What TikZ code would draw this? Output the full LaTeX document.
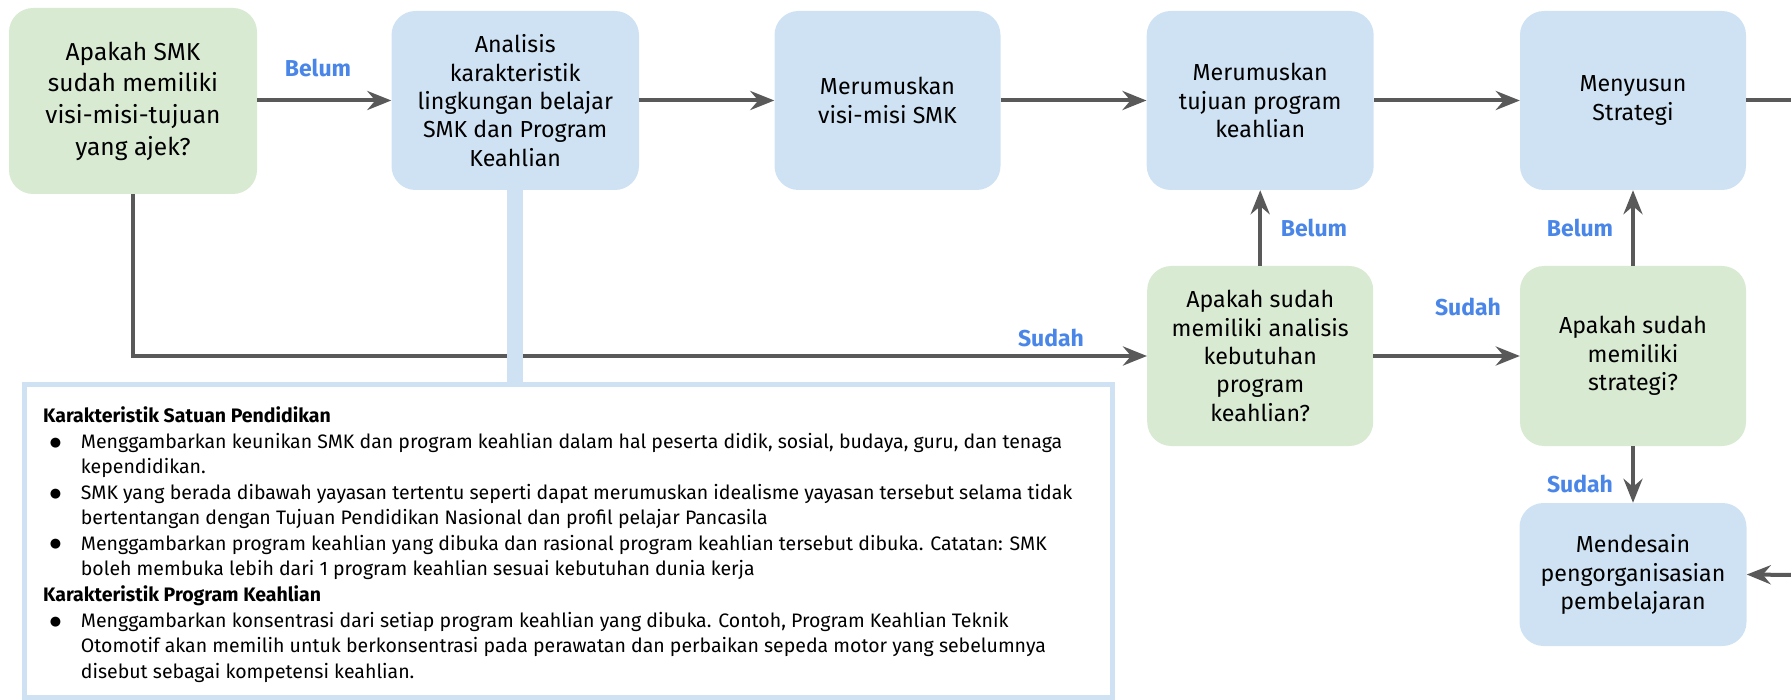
\documentclass[tikz,border=0pt]{standalone}
\usepackage{fontspec}
\setmainfont{Fira Sans}
\newfontfamily\bulletfont{DejaVu Sans}
\usetikzlibrary{arrows.meta}

\definecolor{boxblue}{HTML}{CFE2F3}
\definecolor{boxgreen}{HTML}{D9EAD3}
\definecolor{flowgray}{HTML}{595959}
\definecolor{labelblue}{HTML}{4A86E8}

\begin{document}
\begin{tikzpicture}[x=1pt,y=-1pt,
  base/.style={rounded corners=24pt, inner sep=0pt, align=center, text=black,
    font=\fontsize{23.2}{28.3}\selectfont},
  task/.style={base, fill=boxblue},
  question/.style={base, fill=boxgreen},
  flowline/.style={draw=flowgray, line width=4pt},
  flow/.style={flowline, -{Stealth[length=24pt,width=19pt,inset=8pt]}},
  answer/.style={text=labelblue, inner sep=0pt, font=\bfseries\fontsize{23}{26}\selectfont},
  infoline/.style={anchor=base west, inner sep=0pt, text=black, font=\fontsize{19.5}{22}\selectfont},
  infohead/.style={infoline, font=\bfseries\fontsize{19.5}{22}\selectfont},
  dot/.style={inner sep=0pt, text=black, font=\bulletfont\fontsize{13}{13}\selectfont}]

\useasboundingbox (0,0) rectangle (1791,700);

% flow steps
\node[question, minimum width=248pt, minimum height=186pt,
      font=\fontsize{24.5}{31.7}\selectfont] (q1) at (133,101)
  {Apakah SMK\\sudah memiliki\\visi-misi-tujuan\\yang ajek?};
\node[task, minimum width=247.5pt, minimum height=179pt] (t1) at (515.25,100.5)
  {Analisis\\karakteristik\\lingkungan belajar\\SMK dan Program\\Keahlian};
\node[task, minimum width=226pt, minimum height=179pt] (t2) at (887.5,100.5)
  {Merumuskan\\visi-misi SMK};
\node[task, minimum width=227pt, minimum height=179pt] (t3) at (1260.2,100.5)
  {Merumuskan\\tujuan program\\keahlian};
\node[task, minimum width=226pt, minimum height=179pt] (t4) at (1633,100.5)
  {Menyusun\\Strategi};
\node[question, minimum width=226pt, minimum height=180pt] (q2) at (1260.2,356)
  {Apakah sudah\\memiliki analisis\\kebutuhan\\program\\keahlian?};
\node[question, minimum width=226pt, minimum height=180pt] (q3) at (1633,356)
  {Apakah sudah\\memiliki\\strategi?};
\node[task, minimum width=227pt, minimum height=143pt] (t5) at (1633,574.5)
  {Mendesain\\pengorganisasian\\pembelajaran};

\coordinate (outR) at (1795,100.5);
\coordinate (inR) at (1795,575);

% connectors
\draw[flow] (t1.west -| q1.east) -- (t1.west);
\draw[flow] (t1) -- (t2);
\draw[flow] (t2) -- (t3);
\draw[flow] (t3) -- (t4);
\draw[flowline] (t4.east) -- (outR);
\draw[flow] (q1.south) -- (q1.south |- q2.west) -- (q2.west);
\draw[flow] (q2) -- (q3);
\draw[flow] (q2) -- (t3);
\draw[flow] (q3) -- (t4);
\draw[flow] (q3) -- (t5);
\draw[flow] (inR) -- (t5.east);

% answer labels
\node[answer] (a1) at (318,68) {Belum};
\node[answer] (a2) at (1314,228) {Belum};
\node[answer] (a3) at (1580,228) {Belum};
\node[answer] (a4) at (1051,338) {Sudah};
\node[answer] (a5) at (1468,307) {Sudah};
\node[answer] (a6) at (1580,484) {Sudah};

% description panel and its link to the analysis step
\node[draw=boxblue, line width=5pt, minimum width=1088pt, minimum height=313pt,
      inner sep=0pt] (info) at (568.5,541) {};
\draw[boxblue, line width=16pt] (t1.south) -- (t1.south |- info.north);

\node[infohead] (h1) at (43,422) {Karakteristik Satuan Pendidikan};
\node[dot] (d1) at (55.5,442.7) {●};
\node[infoline] (s1) at (80.7,448) {Menggambarkan keunikan SMK dan program keahlian dalam hal peserta didik, sosial, budaya, guru, dan tenaga};
\node[infoline] (s2) at (80.7,473.5) {kependidikan.};
\node[dot] (d2) at (55.5,494) {●};
\node[infoline] (s3) at (80.7,499) {SMK yang berada dibawah yayasan tertentu seperti dapat merumuskan idealisme yayasan tersebut selama tidak};
\node[infoline] (s4) at (80.7,524.5) {bertentangan dengan Tujuan Pendidikan Nasional dan profil pelajar Pancasila};
\node[dot] (d3) at (55.5,544.5) {●};
\node[infoline] (s5) at (80.7,550) {Menggambarkan program keahlian yang dibuka dan rasional program keahlian tersebut dibuka. Catatan: SMK};
\node[infoline] (s6) at (80.7,575.5) {boleh membuka lebih dari 1 program keahlian sesuai kebutuhan dunia kerja};
\node[infohead] (h2) at (43,601) {Karakteristik Program Keahlian};
\node[dot] (d4) at (55.5,621.7) {●};
\node[infoline] (s7) at (80.7,627) {Menggambarkan konsentrasi dari setiap program keahlian yang dibuka. Contoh, Program Keahlian Teknik};
\node[infoline] (s8) at (80.7,652.5) {Otomotif akan memilih untuk berkonsentrasi pada perawatan dan perbaikan sepeda motor yang sebelumnya};
\node[infoline] (s9) at (80.7,678) {disebut sebagai kompetensi keahlian.};

\end{tikzpicture}
\end{document}
